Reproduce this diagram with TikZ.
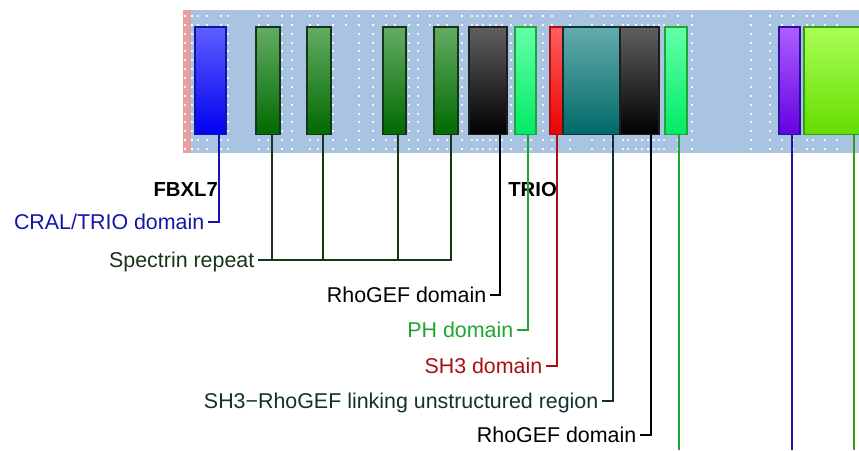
\documentclass[tikz,border=0pt]{standalone}
\usepackage{fontspec}
\setmainfont{Liberation Sans}
\definecolor{bandblue}{RGB}{168,196,226}
\definecolor{pinkstrip}{RGB}{230,160,160}
\definecolor{cralc}{RGB}{20,20,170}
\definecolor{specc}{RGB}{22,52,22}
\definecolor{phc}{RGB}{30,165,50}
\definecolor{sh3c}{RGB}{170,15,15}
\definecolor{linkc}{RGB}{15,50,50}
\definecolor{purc}{RGB}{40,15,160}
\definecolor{limec}{RGB}{50,160,20}
\begin{document}
\begin{tikzpicture}[x=1pt,y=-1pt,
  box/.style={draw, line width=1.2pt, rectangle, inner sep=0pt, minimum height=107.5pt},
  lab/.style={anchor=east, inner xsep=3.5pt, inner ysep=0pt, text height=15pt, text depth=0pt, font=\fontsize{21.4}{24}\selectfont},
  ttl/.style={anchor=base east, inner sep=0pt, font=\fontsize{20.3}{24}\selectfont\bfseries},
  conn/.style={line width=1.6pt},
  dot/.style={fill=white, opacity=0.85}]
\useasboundingbox (0,0) rectangle (859,450);
\begin{scope}
\clip (0,0) rectangle (859,450);
% band
\fill[bandblue] (183,10) rectangle (859,153);
\fill[pinkstrip] (183,10) rectangle (191,153);
% dots: top and bottom rows
\foreach \x in {185,191.7,198,206.7,221,259,268,282,292,310,318,333,345.7,359,373,385.7,395,409,418,430,438,446.7,461.7,471.7,476.7,483,490,495.7,501.7,511,525,530.7,542.7,551.7,570,591.7,604,611.7,623,628,636,641.7,648,654,659,664,678,691.7,751,770,781.7,793,806.7,813,825,836.7}{
  \foreach \y in {16,24.9,140.2,149}{
    \fill[dot] (\x-1,\y-1) rectangle (\x+1,\y+1);
  }
}
% dots: full columns
\foreach \x in {185,191.7,228,282,292,333,359,373,409,418,461.7,511,542.7,691.7,751,770}{
  \foreach \k in {0,...,15}{
    \fill[dot] (\x-1,16+8.87*\k-1) rectangle (\x+1,16+8.87*\k+1);
  }
}
% boxes
\node[box, draw=cralc, top color={rgb,255:red,95;green,95;blue,255}, bottom color={rgb,255:red,0;green,0;blue,240}, minimum width=31pt] (b1) at (210.5,80.75) {};
\node[box, draw=specc, top color={rgb,255:red,100;green,172;blue,100}, bottom color={rgb,255:red,0;green,105;blue,0}, minimum width=24pt] (b2) at (268,80.75) {};
\node[box, draw=specc, top color={rgb,255:red,100;green,172;blue,100}, bottom color={rgb,255:red,0;green,105;blue,0}, minimum width=24pt] (b3) at (319,80.75) {};
\node[box, draw=specc, top color={rgb,255:red,100;green,172;blue,100}, bottom color={rgb,255:red,0;green,105;blue,0}, minimum width=23pt] (b4) at (394.5,80.75) {};
\node[box, draw=specc, top color={rgb,255:red,100;green,172;blue,100}, bottom color={rgb,255:red,0;green,105;blue,0}, minimum width=24pt] (b5) at (446,80.75) {};
\node[box, draw={rgb,255:red,30;green,30;blue,30}, top color={rgb,255:red,96;green,96;blue,96}, bottom color=black, minimum width=38pt] (b6) at (488,80.75) {};
\node[box, draw=phc, top color={rgb,255:red,100;green,255;blue,170}, bottom color={rgb,255:red,0;green,235;blue,100}, minimum width=21pt] (b7) at (525.5,80.75) {};
\node[box, draw=sh3c, top color={rgb,255:red,255;green,95;blue,95}, bottom color={rgb,255:red,238;green,0;blue,0}, minimum width=13pt] (b8) at (556.5,80.75) {};
\node[box, draw=linkc, top color={rgb,255:red,100;green,172;blue,172}, bottom color={rgb,255:red,0;green,105;blue,105}, minimum width=57pt] (b9) at (591.5,80.75) {};
\node[box, draw={rgb,255:red,30;green,30;blue,30}, top color={rgb,255:red,96;green,96;blue,96}, bottom color=black, minimum width=39pt] (b10) at (639.5,80.75) {};
\node[box, draw=phc, top color={rgb,255:red,100;green,255;blue,170}, bottom color={rgb,255:red,0;green,235;blue,100}, minimum width=22pt] (b11) at (676,80.75) {};
\node[box, draw=purc, top color={rgb,255:red,172;green,95;blue,255}, bottom color={rgb,255:red,100;green,0;blue,225}, minimum width=21pt] (b12) at (789.5,80.75) {};
\node[box, draw=limec, top color={rgb,255:red,170;green,255;blue,85}, bottom color={rgb,255:red,100;green,220;blue,0}, minimum width=96pt] (b13) at (852,80.75) {};
% labels
\node[ttl] (t1) at (218,196) {FBXL7};
\node[ttl] (t2) at (557,196) {TRIO};
\node[lab, text=cralc] (l1) at (208,222) {CRAL/TRIO domain};
\node[lab, text=specc] (l2) at (258,260) {Spectrin repeat};
\node[lab, text=black] (l3) at (490,295) {RhoGEF domain};
\node[lab, text=phc] (l4) at (517,330) {PH domain};
\node[lab, text=sh3c] (l5) at (546,366) {SH3 domain};
\node[lab, text=linkc] (l6) at (602,401) {SH3−RhoGEF linking unstructured region};
\node[lab, text=black] (l7) at (640,435) {RhoGEF domain};
% connector start points
\coordinate (p1) at (219,134.5);
\coordinate (p2) at (272,134.5);
\coordinate (p3) at (323,134.5);
\coordinate (p4) at (398,134.5);
\coordinate (p5) at (451,134.5);
\coordinate (p6) at (500,134.5);
\coordinate (p7) at (528,134.5);
\coordinate (p8) at (557,134.5);
\coordinate (p9) at (613,134.5);
\coordinate (p10) at (651,134.5);
\coordinate (p11) at (679,134.5);
\coordinate (p12) at (792,134.5);
\coordinate (p13) at (854,134.5);
\coordinate (e11) at (679,450);
\coordinate (e12) at (792,450);
\coordinate (e13) at (854,450);
% connectors
\draw[conn, cralc] (p1) |- (l1.east);
\draw[conn, specc] (p5) |- (l2.east);
\draw[conn, specc] (p2) -- (p2 |- l2.east);
\draw[conn, specc] (p3) -- (p3 |- l2.east);
\draw[conn, specc] (p4) -- (p4 |- l2.east);
\draw[conn, black] (p6) |- (l3.east);
\draw[conn, phc] (p7) |- (l4.east);
\draw[conn, sh3c] (p8) |- (l5.east);
\draw[conn, linkc] (p9) |- (l6.east);
\draw[conn, black] (p10) |- (l7.east);
\draw[conn, phc] (p11) -- (e11);
\draw[conn, purc] (p12) -- (e12);
\draw[conn, limec] (p13) -- (e13);
\end{scope}
\end{tikzpicture}
\end{document}
